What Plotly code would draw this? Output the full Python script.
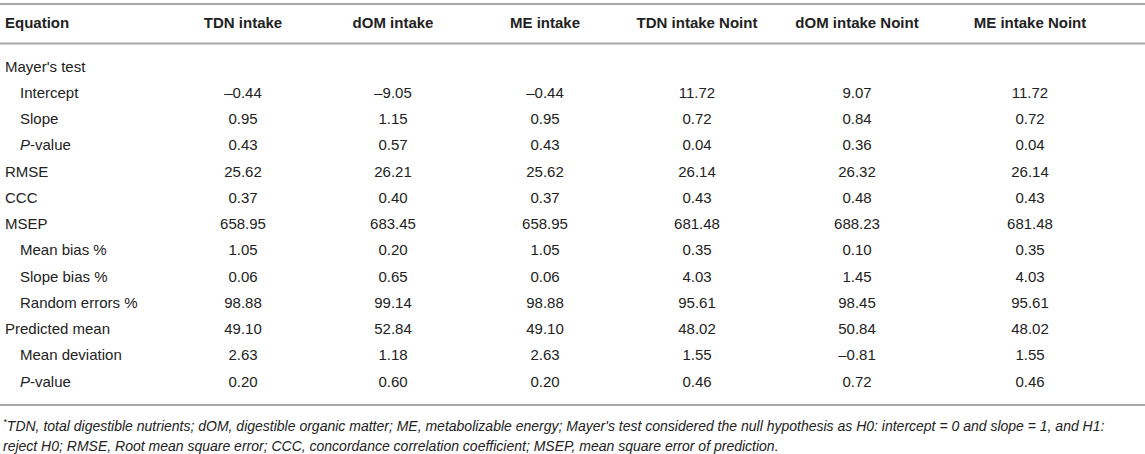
import plotly.graph_objects as go

# table content
row_labels = ["Mayer's test", "Intercept", "Slope", "<i>P</i>-value", "RMSE", "CCC", "MSEP",
              "Mean bias %", "Slope bias %", "Random errors %", "Predicted mean",
              "Mean deviation", "<i>P</i>-value"]
row_indent = [0, 1, 1, 1, 0, 0, 0, 1, 1, 1, 0, 1, 1]
columns = ["TDN intake", "dOM intake", "ME intake",
           "TDN intake Noint", "dOM intake Noint", "ME intake Noint"]

tdn_intake = [None, -0.44, 0.95, 0.43, 25.62, 0.37, 658.95, 1.05, 0.06, 98.88, 49.10, 2.63, 0.20]
dom_intake = [None, -9.05, 1.15, 0.57, 26.21, 0.40, 683.45, 0.20, 0.65, 99.14, 52.84, 1.18, 0.60]
me_intake = [None, -0.44, 0.95, 0.43, 25.62, 0.37, 658.95, 1.05, 0.06, 98.88, 49.10, 2.63, 0.20]
tdn_noint = [None, 11.72, 0.72, 0.04, 26.14, 0.43, 681.48, 0.35, 4.03, 95.61, 48.02, 1.55, 0.46]
dom_noint = [None, 9.07, 0.84, 0.36, 26.32, 0.48, 688.23, 0.10, 1.45, 98.45, 50.84, -0.81, 0.72]
me_noint = [None, 11.72, 0.72, 0.04, 26.14, 0.43, 681.48, 0.35, 4.03, 95.61, 48.02, 1.55, 0.46]

footnote = [
    "<sup>*</sup>TDN, total digestible nutrients; dOM, digestible organic matter; ME, metabolizable energy; "
    "Mayer's test considered the null hypothesis as H0: intercept = 0 and slope = 1, and H1:",
    "reject H0; RMSE, Root mean square error; CCC, concordance correlation coefficient; "
    "MSEP, mean square error of prediction.",
]

series = [tdn_intake, dom_intake, me_intake, tdn_noint, dom_noint, me_noint]

# layout (pixel-ish x, row index y)
col_x = [243, 393, 545, 697, 857, 1030]
label_x = [5, 20]
FONT = "Liberation Sans, Arial, sans-serif"
TXT = "#222222"
LINE = "#a8a8a8"
fs = 15


def fmt(v):
    s = f"{abs(v):.2f}"
    return "\u2013" + s if v < 0 else s


rows = list(range(len(row_labels)))

fig = go.Figure()

# row labels
fig.add_trace(go.Scatter(
    x=[label_x[i] for i in row_indent], y=rows, text=row_labels,
    mode="text", textposition="middle right",
    textfont=dict(family=FONT, size=fs, color=TXT), hoverinfo="skip"))

# values
for cx, vals in zip(col_x, series):
    idx = [i for i, v in enumerate(vals) if v is not None]
    fig.add_trace(go.Scatter(
        x=[cx] * len(idx), y=idx, text=[fmt(vals[i]) for i in idx],
        mode="text", textposition="middle center",
        textfont=dict(family=FONT, size=fs, color=TXT), hoverinfo="skip"))

# header
hy = -1.65
fig.add_trace(go.Scatter(
    x=[label_x[0]], y=[hy], text=["<b>Equation</b>"], mode="text",
    textposition="middle right", textfont=dict(family=FONT, size=fs, color=TXT),
    hoverinfo="skip"))
fig.add_trace(go.Scatter(
    x=col_x, y=[hy] * len(columns), text=[f"<b>{c}</b>" for c in columns], mode="text",
    textposition="middle center", textfont=dict(family=FONT, size=fs, color=TXT),
    hoverinfo="skip"))

# rules
for yy in [-2.44, -0.93, 12.84]:
    fig.add_shape(type="line", x0=0, x1=1145, y0=yy, y1=yy, xref="x", yref="y",
                  line=dict(color=LINE, width=2))

for ly, line in zip([13.6, 14.4], footnote):
    fig.add_annotation(x=1, y=ly, xref="x", yref="y", text=f"<i>{line}</i>",
                       showarrow=False, xanchor="left", yanchor="middle", align="left",
                       font=dict(family=FONT, size=14, color=TXT))

fig.update_layout(
    width=1145, height=454,
    margin=dict(l=0, r=0, t=0, b=0),
    paper_bgcolor="white", plot_bgcolor="white",
    showlegend=False,
)
fig.update_xaxes(range=[0, 1145], visible=False)
fig.update_yaxes(range=[14.705, -2.590], visible=False)

fig.write_html("out.html", config={"displayModeBar": False},
               post_script="document.body.style.margin='0';")
